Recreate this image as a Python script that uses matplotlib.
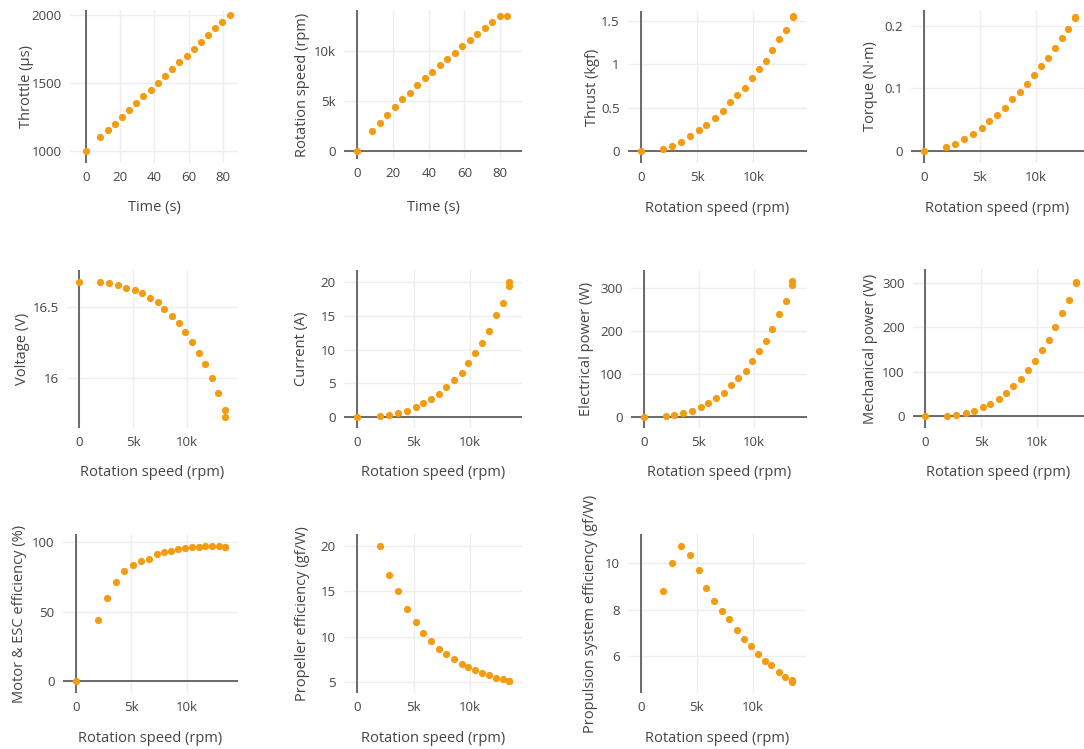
import matplotlib
matplotlib.use("Agg")
import matplotlib.pyplot as plt
from matplotlib.ticker import FuncFormatter, MultipleLocator

plt.rcParams["font.family"] = ["Open Sans", "DejaVu Sans"]

# test data
time_s = [0, 8.4, 12.6, 16.8, 21.0, 25.2, 29.4, 33.6, 37.8, 42.0, 46.2,
          50.4, 54.6, 58.8, 63.0, 67.2, 71.4, 75.6, 79.8, 84.0]
throttle = [1000, 1100, 1150, 1200, 1250, 1300, 1350, 1400, 1450, 1500, 1550,
            1600, 1650, 1700, 1750, 1800, 1850, 1900, 1950, 2000]
rpm = [0, 1970, 2770, 3600, 4370, 5170, 5830, 6570, 7270, 7900, 8570,
       9230, 9830, 10470, 11070, 11670, 12300, 12870, 13470, 13470]
thrust = [0, 0.023, 0.058, 0.11, 0.17, 0.24, 0.30, 0.376, 0.46, 0.56, 0.64,
          0.73, 0.84, 0.944, 1.036, 1.158, 1.285, 1.39, 1.545, 1.555]
torque = [0, 0.0064, 0.0117, 0.0197, 0.028, 0.0378, 0.048, 0.0574, 0.0697, 0.0835, 0.0947,
          0.107, 0.121, 0.136, 0.149, 0.164, 0.181, 0.195, 0.212, 0.214]
voltage = [16.676, 16.671, 16.664, 16.65, 16.634, 16.615, 16.594, 16.563, 16.53, 16.484, 16.437,
           16.385, 16.324, 16.254, 16.176, 16.096, 15.995, 15.892, 15.775, 15.725]
current = [0, 0.15, 0.35, 0.65, 0.94, 1.44, 2.03, 2.68, 3.47, 4.47, 5.46,
           6.6, 8.0, 9.48, 11.0, 12.8, 15.1, 17.0, 19.5, 20.1]
elec_power = [0, 2.5, 5.5, 10, 15, 23, 33.5, 44, 57, 74, 90,
              108, 130, 154, 178, 205, 240, 270, 308, 316]
mech_power = [0, 1.5, 3, 6.7, 12.7, 21, 28.5, 39.8, 52.5, 69, 84.8,
              103.5, 125, 148.5, 172.5, 200, 233, 262, 300, 302]
motor_eff = [0, 44.3, 59.6, 71, 79.2, 83.3, 86.1, 87.8, 91.4, 93.1, 93.8,
             95, 95.7, 96.2, 96.4, 96.9, 97.1, 96.9, 96.7, 96.2]
prop_eff = [None, 20.0, 16.84, 15.07, 13.05, 11.65, 10.37, 9.49, 8.68, 8.12, 7.57,
            7.02, 6.69, 6.32, 5.99, 5.77, 5.44, 5.29, 5.07, 5.07]
system_eff = [None, 8.82, 10.01, 10.74, 10.38, 9.71, 8.96, 8.38, 7.95, 7.6, 7.14,
              6.72, 6.43, 6.09, 5.8, 5.6, 5.31, 5.12, 4.95, 4.89]

ORANGE = "#f39c12"
TEXT = "#444444"
GRID = "#eeeeee"
W, H = 1084, 749

fig = plt.figure(figsize=(W / 100, H / 100), dpi=100)
fig.patch.set_facecolor("white")


def kfmt(v, pos):
    if abs(v) >= 1000:
        return "%gk" % (v / 1000)
    return "%g" % v


def plain(v, pos):
    return "%g" % v


def panel(box, x, y, xlabel, ylabel, xlim, ylim, xstep, ystep, ylabelx, xlabely,
          yfmt=kfmt):
    left, top, right, bottom = box
    ax = fig.add_axes([left / W, 1 - bottom / H, (right - left) / W, (bottom - top) / H])
    for s in ax.spines.values():
        s.set_visible(False)
    ax.set_xlim(*xlim)
    ax.set_ylim(*ylim)
    ax.xaxis.set_major_locator(MultipleLocator(xstep))
    ax.yaxis.set_major_locator(MultipleLocator(ystep))
    ax.xaxis.set_major_formatter(FuncFormatter(kfmt))
    ax.yaxis.set_major_formatter(FuncFormatter(yfmt))
    ax.tick_params(length=0, labelsize=9.5, labelcolor=TEXT, pad=6)
    ax.grid(color=GRID, lw=1)
    ax.set_axisbelow(True)
    if xlim[0] < 0 < xlim[1]:
        ax.axvline(0, color=TEXT, lw=1.1, zorder=2)
    if ylim[0] < 0 < ylim[1]:
        ax.axhline(0, color=TEXT, lw=1.1, zorder=2)
    xs = [a for a, b in zip(x, y) if b is not None]
    ys = [b for b in y if b is not None]
    ax.scatter(xs, ys, s=27, color=ORANGE, zorder=3, linewidths=0)
    fig.text((left + right) / 2 / W, 1 - xlabely / H, xlabel, ha="center", va="center",
             fontsize=10.5, color=TEXT)
    fig.text(ylabelx / W, 1 - (top + bottom) / 2 / H, ylabel, ha="center", va="center",
             rotation=90, fontsize=10.5, color=TEXT)
    return ax


RPM = "Rotation speed (rpm)"

# row 1
panel((70, 10, 238, 163), time_s, throttle, "Time (s)", "Throttle (µs)",
      (-9.4, 88.9), (911, 2035), 20, 500, 27, 208, yfmt=plain)
panel((344, 10, 522, 159), time_s, rpm, "Time (s)", "Rotation speed (rpm)",
      (-7.5, 92.3), (-800, 14100), 20, 5000, 302, 208)
panel((628, 11, 807, 163), rpm, thrust, RPM, "Thrust (kgf)",
      (-1130, 14750), (-0.135, 1.61), 5000, 0.5, 593, 208)
panel((911, 10, 1084, 163), rpm, torque, RPM, "Torque (N·m)",
      (-1130, 14300), (-0.0187, 0.225), 5000, 0.1, 870, 208)

# row 2
panel((67, 270, 238, 428), rpm, voltage, RPM, "Voltage (V)",
      (-1100, 14700), (15.646, 16.758), 5000, 0.5, 22, 473)
panel((344, 270, 522, 428), rpm, current, RPM, "Current (A)",
      (-1180, 14590), (-1.64, 21.83), 5000, 5, 302, 473)
panel((631, 270, 807, 428), rpm, elec_power, RPM, "Electrical power (W)",
      (-1160, 14800), (-25.7, 342.8), 5000, 100, 586, 473)
panel((913, 269, 1084, 428), rpm, mech_power, RPM, "Mechanical power (W)",
      (-1120, 14230), (-26, 331.5), 5000, 100, 870, 473)

# row 3
panel((63, 534, 238, 693), rpm, motor_eff, RPM, "Motor & ESC efficiency (%)",
      (-1150, 14600), (-8.3, 105.7), 5000, 50, 20, 738)
panel((344, 534, 522, 693), rpm, prop_eff, RPM, "Propeller efficiency (gf/W)",
      (-1180, 14590), (3.79, 21.32), 5000, 5, 302, 738)
panel((628, 534, 806, 693), rpm, system_eff, RPM, "Propulsion system efficiency (gf/W)",
      (-1130, 14750), (4.41, 11.27), 5000, 2, 590, 738)

fig.savefig("out.png", dpi=100, facecolor="white")
